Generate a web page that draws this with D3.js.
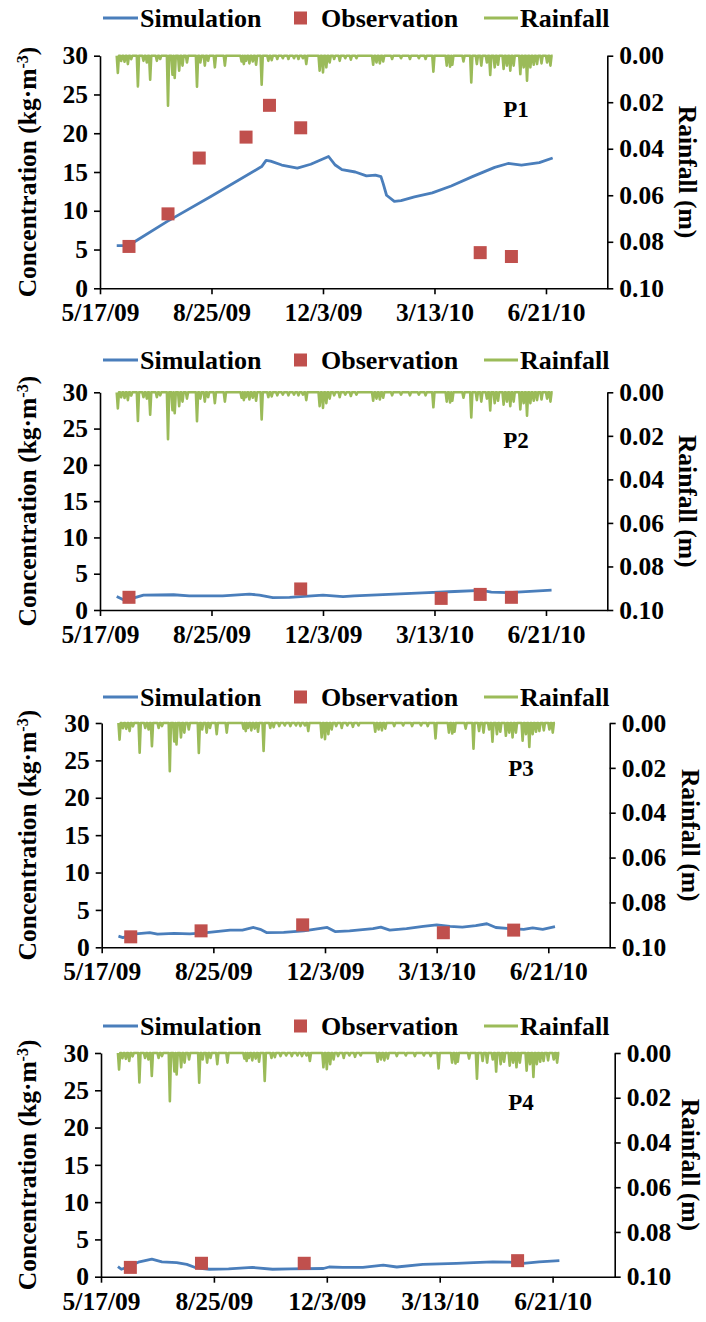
<!DOCTYPE html>
<html>
<head>
<meta charset="utf-8">
<script src="https://cdn.jsdelivr.net/npm/d3@7"></script>
<style>
  html, body { margin: 0; padding: 0; background: #fff; }
  svg { display: block; }
  text { font-family: "Liberation Serif", "Times New Roman", serif; font-weight: bold; fill: #000; }
</style>
</head>
<body>
<svg id="chart" width="706" height="1322"></svg>
<script>
// ---------------- data ----------------
const xDomain = ["2009-05-17", "2010-08-15"];
const xTickDates = ["2009-05-17", "2009-08-25", "2009-12-03", "2010-03-13", "2010-06-21"];
const concTicks = [0, 5, 10, 15, 20, 25, 30];
const rainTicks = [0, 0.02, 0.04, 0.06, 0.08, 0.10];
const panelNames = ["P1", "P2", "P3", "P4"];
const seriesNames = ["Simulation", "Observation", "Rainfall"];

// daily rainfall (m); days not listed are dry
const rainPeriod = ["2009-06-01", "2010-06-27"];
const rainDates = [
  "2009-06-02","2009-06-05","2009-06-08","2009-06-11","2009-06-14","2009-06-20","2009-06-25","2009-06-28",
  "2009-07-01","2009-07-07","2009-07-10","2009-07-17","2009-07-21","2009-07-23","2009-07-27","2009-07-30",
  "2009-08-03","2009-08-12","2009-08-15","2009-08-19","2009-08-22","2009-08-28","2009-09-06","2009-09-21",
  "2009-09-23","2009-09-25","2009-09-28","2009-10-01","2009-10-04","2009-10-09","2009-10-15","2009-10-18",
  "2009-10-23","2009-10-28","2009-11-02","2009-11-07","2009-11-11","2009-11-15","2009-11-18","2009-11-30",
  "2009-12-03","2009-12-06","2009-12-09","2009-12-13","2009-12-18","2009-12-23","2009-12-28","2010-01-02",
  "2010-01-17","2010-01-20","2010-01-23","2010-01-26","2010-02-03","2010-02-11","2010-02-19","2010-02-27",
  "2010-03-05","2010-03-12","2010-03-24","2010-03-27","2010-03-29","2010-04-08","2010-04-15","2010-04-20",
  "2010-04-24","2010-04-29","2010-05-02","2010-05-06","2010-05-09","2010-05-14","2010-05-17","2010-05-20",
  "2010-05-23","2010-05-29","2010-06-01","2010-06-04","2010-06-07","2010-06-10","2010-06-13","2010-06-17",
  "2010-06-22","2010-06-25"
];
const rainDepths = [
  0.0074,0.0023,0.0026,0.0036,0.0015,0.0132,0.0022,0.0029,
  0.0103,0.0022,0.0014,0.0215,0.0082,0.0096,0.0064,0.0043,
  0.0029,0.0133,0.0029,0.0043,0.0022,0.0050,0.0043,0.0025,
  0.0036,0.0022,0.0033,0.0025,0.0039,0.0125,0.0022,0.0019,
  0.0014,0.0011,0.0014,0.0011,0.0014,0.0011,0.0036,0.0064,
  0.0072,0.0050,0.0029,0.0014,0.0022,0.0011,0.0017,0.0011,
  0.0039,0.0029,0.0033,0.0025,0.0014,0.0011,0.0014,0.0011,
  0.0014,0.0069,0.0043,0.0047,0.0039,0.0025,0.0115,0.0036,
  0.0043,0.0029,0.0083,0.0050,0.0039,0.0057,0.0043,0.0064,
  0.0043,0.0079,0.0050,0.0107,0.0050,0.0039,0.0036,0.0033,
  0.0029,0.0043
];

// P1
const simDatesP1 = [
  "2009-06-01","2009-06-11","2009-06-17","2009-07-16","2009-08-24","2009-10-09","2009-10-13","2009-10-17",
  "2009-10-27","2009-11-10","2009-11-22","2009-12-08","2009-12-14","2009-12-20","2010-01-01","2010-01-11",
  "2010-01-19","2010-01-24","2010-01-26","2010-01-29","2010-02-05","2010-02-11","2010-02-23","2010-03-11",
  "2010-03-28","2010-04-16","2010-05-06","2010-05-18","2010-05-30","2010-06-15","2010-06-27"
];
const simP1 = [
  5.5,5.5,6.0,8.6,11.8,15.7,16.5,16.4,
  15.9,15.5,16.0,17.0,15.9,15.3,15.0,14.5,
  14.6,14.4,13.5,12.0,11.2,11.3,11.8,12.3,
  13.2,14.4,15.6,16.1,15.9,16.2,16.8
];
const obsDatesP1 = ["2009-06-12","2009-07-17","2009-08-14","2009-09-25","2009-10-16","2009-11-13","2010-04-23","2010-05-21"];
const obsP1 = [5.4, 9.6, 16.8, 19.5, 23.6, 20.7, 4.6, 4.1];

// P2
const simDatesP2 = [
  "2009-06-01","2009-06-07","2009-06-15","2009-06-25","2009-07-22","2009-08-05","2009-09-04","2009-09-28",
  "2009-10-07","2009-10-19","2009-11-03","2009-12-03","2009-12-21","2009-12-31","2010-01-31","2010-03-02",
  "2010-03-31","2010-04-24","2010-05-03","2010-05-18","2010-05-30","2010-06-26"
];
const simP2 = [
  1.85,1.4,1.6,2.05,2.1,1.95,1.95,2.2,
  2.05,1.7,1.75,2.05,1.85,1.95,2.15,2.35,
  2.55,2.7,2.45,2.4,2.5,2.75
];
const obsDatesP2 = ["2009-06-12","2009-11-13","2010-03-19","2010-04-23","2010-05-21"];
const obsP2 = [1.75, 2.9, 1.6, 2.15, 1.75];

// P3
const simDatesP3 = [
  "2009-06-01","2009-06-05","2009-06-14","2009-06-29","2009-07-06","2009-07-21","2009-08-04","2009-08-19",
  "2009-09-09","2009-09-20","2009-09-30","2009-10-06","2009-10-12","2009-10-27","2009-11-14","2009-12-05",
  "2009-12-12","2009-12-25","2010-01-15","2010-01-22","2010-01-30","2010-02-14","2010-03-01","2010-03-13",
  "2010-03-25","2010-04-05","2010-04-17","2010-04-27","2010-05-05","2010-05-18","2010-05-30","2010-06-07",
  "2010-06-16","2010-06-27"
];
const simP3 = [
  1.5,1.3,1.75,1.95,1.75,1.85,1.8,1.95,
  2.3,2.3,2.65,2.4,1.95,2.0,2.2,2.65,
  2.1,2.2,2.5,2.7,2.3,2.5,2.8,3.0,
  2.8,2.7,2.9,3.15,2.65,2.5,2.4,2.6,
  2.4,2.75
];
const obsDatesP3 = ["2009-06-12","2009-08-14","2009-11-13","2010-03-19","2010-05-21"];
const obsP3 = [1.4, 2.2, 3.0, 1.95, 2.3];

// P4
const simDatesP4 = [
  "2009-06-01","2009-06-04","2009-06-08","2009-06-20","2009-07-01","2009-07-10","2009-07-23","2009-08-01",
  "2009-08-09","2009-08-21","2009-09-07","2009-09-28","2009-10-16","2009-11-01","2009-11-30","2009-12-05",
  "2009-12-17","2010-01-04","2010-01-22","2010-02-03","2010-02-26","2010-03-28","2010-04-12","2010-04-29",
  "2010-05-14","2010-05-26","2010-06-09","2010-06-27"
];
const simP4 = [
  1.35,1.0,1.2,2.0,2.35,2.0,1.9,1.65,
  1.2,1.0,1.05,1.25,1.0,1.05,1.1,1.3,
  1.25,1.25,1.55,1.3,1.65,1.8,1.9,2.0,
  1.95,1.8,2.0,2.15
];
const obsDatesP4 = ["2009-06-12","2009-08-14","2009-11-13","2010-05-21"];
const obsP4 = [1.25, 1.8, 1.8, 2.15];

// ---------------- drawing ----------------
const parse = d3.utcParse("%Y-%m-%d");
const fmtDate = d3.utcFormat("%-m/%-d/%y");
const colors = { sim: "#4A7EBB", obs: "#C0504D", rain: "#9BBB59" };

// daily rainfall series over the record period
const rainByDay = new Map(rainDates.map((d, i) => [+parse(d), rainDepths[i]]));
const rainSeries = d3.utcDay.range(parse(rainPeriod[0]), d3.utcDay.offset(parse(rainPeriod[1]), 1))
  .map(d => ({ date: d, v: rainByDay.get(+d) || 0 }));

const panels = [
  { name: panelNames[0], sim: simDatesP1.map((d, i) => ({ date: parse(d), v: simP1[i] })), obs: obsDatesP1.map((d, i) => ({ date: parse(d), v: obsP1[i] })) },
  { name: panelNames[1], sim: simDatesP2.map((d, i) => ({ date: parse(d), v: simP2[i] })), obs: obsDatesP2.map((d, i) => ({ date: parse(d), v: obsP2[i] })) },
  { name: panelNames[2], sim: simDatesP3.map((d, i) => ({ date: parse(d), v: simP3[i] })), obs: obsDatesP3.map((d, i) => ({ date: parse(d), v: obsP3[i] })) },
  { name: panelNames[3], sim: simDatesP4.map((d, i) => ({ date: parse(d), v: simP4[i] })), obs: obsDatesP4.map((d, i) => ({ date: parse(d), v: obsP4[i] })) }
];

// per-panel frame: left edge, right edge, top (30) and bottom (0)
const frames = [
  { left: 100,   right: 607.3, top: 55.7,  bottom: 288.3,  legendY: 18,   tag: [516, 109] },
  { left: 100,   right: 607.3, top: 392.3, bottom: 610,    legendY: 360,  tag: [516, 440] },
  { left: 101.7, right: 609.7, top: 723,   bottom: 947.3,  legendY: 697,  tag: [521, 768] },
  { left: 101,   right: 614.7, top: 1053,  bottom: 1276.7, legendY: 1026, tag: [521, 1102] }
];

const svg = d3.select("#chart");
const FS = 25.5;   // tick labels and axis titles
const LFS = 26;    // legend

panels.forEach((p, k) => {
  const f = frames[k];
  const g = svg.append("g");

  const x = d3.scaleUtc().domain(xDomain.map(parse)).range([f.left, f.right]);
  const y = d3.scaleLinear().domain([0, 30]).range([f.bottom, f.top]);
  const yr = d3.scaleLinear().domain([0, 0.10]).range([f.top, f.bottom]);

  // axes
  const ax = g.append("g").attr("transform", `translate(0,${f.bottom})`)
    .call(d3.axisBottom(x).tickValues(xTickDates.map(parse)).tickFormat(fmtDate).tickSize(6).tickSizeOuter(0).tickPadding(9));
  const ay = g.append("g").attr("transform", `translate(${f.left},0)`)
    .call(d3.axisLeft(y).tickValues(concTicks).tickSize(6).tickSizeOuter(0).tickPadding(6));
  const ar = g.append("g").attr("transform", `translate(${f.right},0)`)
    .call(d3.axisRight(yr).tickValues(rainTicks).tickFormat(d3.format(".2f")).tickSize(6).tickSizeOuter(0).tickPadding(6));
  [ax, ay, ar].forEach(a => {
    a.selectAll("path, line").attr("stroke", "#000").attr("stroke-width", 1.6);
    a.selectAll("text").attr("font-size", FS).attr("fill", "#000")
      .attr("font-family", "'Liberation Serif', serif").attr("font-weight", "bold");
  });

  // rainfall hanging from the top
  g.append("path").datum(rainSeries)
    .attr("fill", "none").attr("stroke", colors.rain).attr("stroke-width", 2.6).attr("stroke-linejoin", "round")
    .attr("d", d3.line().x(d => x(d.date)).y(d => yr(d.v)));

  // simulated concentration
  g.append("path").datum(p.sim)
    .attr("fill", "none").attr("stroke", colors.sim).attr("stroke-width", 2.8).attr("stroke-linejoin", "round")
    .attr("d", d3.line().x(d => x(d.date)).y(d => y(d.v)));

  // observed concentration
  const S = 13;
  g.selectAll("rect.obs").data(p.obs).join("rect").attr("class", "obs")
    .attr("x", d => x(d.date) - S / 2).attr("y", d => y(d.v) - S / 2)
    .attr("width", S).attr("height", S).attr("fill", colors.obs);

  // panel tag
  g.append("text").attr("x", f.tag[0]).attr("y", f.tag[1]).attr("dy", "0.35em")
    .attr("text-anchor", "middle").attr("font-size", 23).text(p.name);

  // axis titles
  const midY = (f.top + f.bottom) / 2;
  const lt = g.append("text").attr("transform", `translate(27,${midY}) rotate(-90)`)
    .attr("text-anchor", "middle").attr("dy", "0.35em").attr("font-size", FS);
  lt.append("tspan").text("Concentration (kg·m");
  lt.append("tspan").attr("baseline-shift", "super").attr("font-size", 16).text("-3");
  lt.append("tspan").text(")");
  g.append("text").attr("transform", `translate(${Math.min(f.right + 81, 691)},${midY}) rotate(90)`)
    .attr("text-anchor", "middle").attr("dy", "0.35em").attr("font-size", FS).text("Rainfall (m)");

  // legend
  const L = g.append("g").attr("transform", `translate(0,${f.legendY})`);
  L.append("line").attr("x1", 103).attr("x2", 138).attr("y1", 0).attr("y2", 0)
    .attr("stroke", colors.sim).attr("stroke-width", 2.8);
  L.append("text").attr("x", 140).attr("dy", "0.35em").attr("font-size", LFS).text(seriesNames[0]);
  L.append("rect").attr("x", 294).attr("y", -6.5).attr("width", 13).attr("height", 13).attr("fill", colors.obs);
  L.append("text").attr("x", 321).attr("dy", "0.35em").attr("font-size", LFS).text(seriesNames[1]);
  L.append("line").attr("x1", 484).attr("x2", 518).attr("y1", 0).attr("y2", 0)
    .attr("stroke", colors.rain).attr("stroke-width", 2.8);
  L.append("text").attr("x", 520).attr("dy", "0.35em").attr("font-size", LFS).text(seriesNames[2]);
});
</script>
</body>
</html>
